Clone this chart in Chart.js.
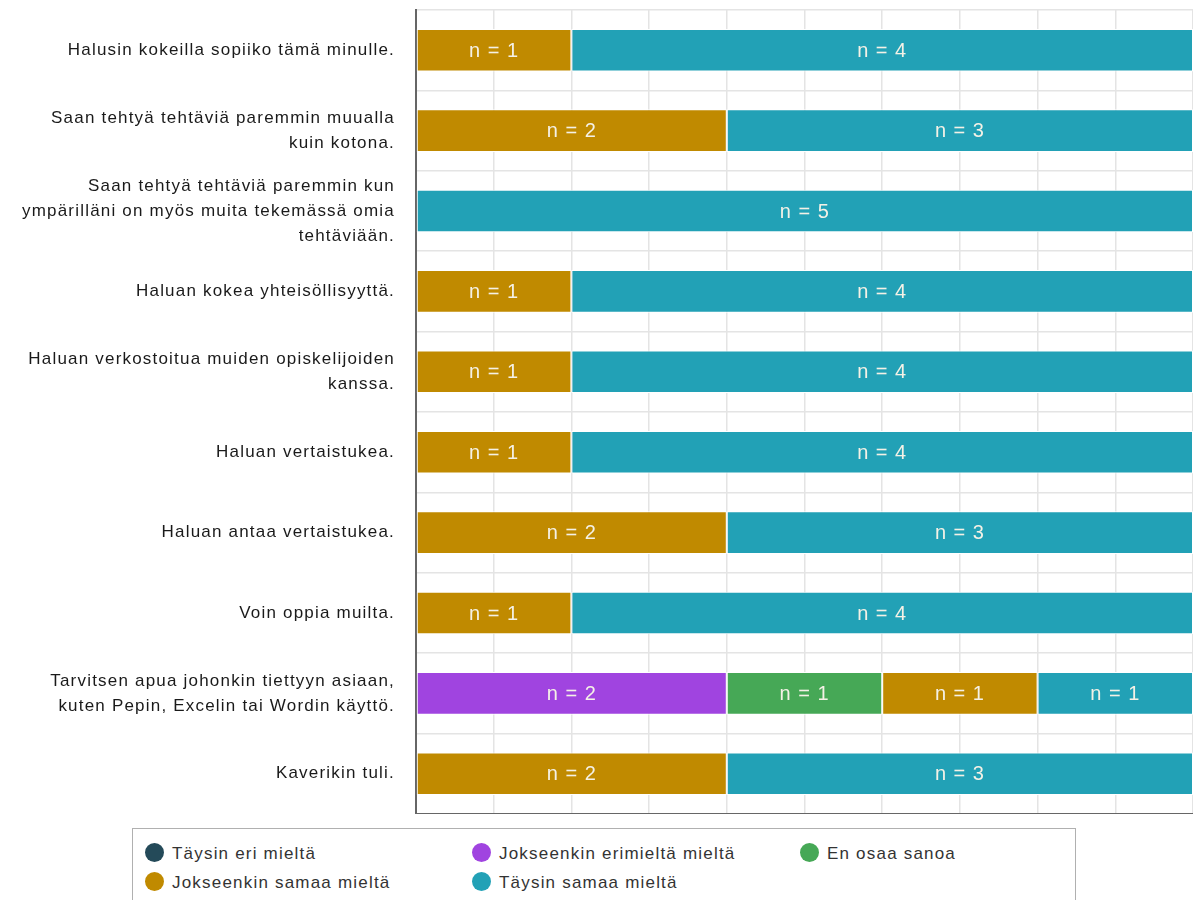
<!DOCTYPE html>
<html>
<head>
<meta charset="utf-8">
<script src="https://cdn.jsdelivr.net/npm/chart.js@4"></script>
<style>
  body { margin: 0; background: #fff; font-family: "Liberation Sans", Arial, sans-serif; }
  #wrap { position: relative; width: 1193px; height: 900px; overflow: hidden; }
  #chart-box { position: absolute; left: 0; top: 0; width: 1193px; height: 814px; }
  #legend {
    position: absolute; left: 132px; top: 828px; width: 944px; height: 90px;
    border: 1px solid #b0b0b0; box-sizing: border-box;
  }
  .item { position: absolute; font-size: 17px; letter-spacing: 1.2px; color: #333; line-height: 20px; white-space: nowrap; }
  .dot { display: inline-block; width: 19px; height: 19px; border-radius: 50%; vertical-align: -3px; margin-right: 8px; }
</style>
</head>
<body>
<div id="wrap">
  <div id="chart-box"><canvas id="c"></canvas></div>
  <div id="legend"></div>
</div>
<script>
const categories = [
  ["Halusin kokeilla sopiiko tämä minulle."],
  ["Saan tehtyä tehtäviä paremmin muualla", "kuin kotona."],
  ["Saan tehtyä tehtäviä paremmin kun", "ympärilläni on myös muita tekemässä omia", "tehtäviään."],
  ["Haluan kokea yhteisöllisyyttä."],
  ["Haluan verkostoitua muiden opiskelijoiden", "kanssa."],
  ["Haluan vertaistukea."],
  ["Haluan antaa vertaistukea."],
  ["Voin oppia muilta."],
  ["Tarvitsen apua johonkin tiettyyn asiaan,", "kuten Pepin, Excelin tai Wordin käyttö."],
  ["Kaverikin tuli."]
];
const seriesNames = ["Täysin eri mieltä", "Jokseenkin erimieltä mieltä", "En osaa sanoa", "Jokseenkin samaa mieltä", "Täysin samaa mieltä"];
const seriesColors = ["#244a59", "#a044e0", "#46a856", "#c08a00", "#22a1b6"];
const taysinEri       = [0, 0, 0, 0, 0, 0, 0, 0, 0, 0];
const jokseenkinEri   = [0, 0, 0, 0, 0, 0, 0, 0, 2, 0];
const enOsaa          = [0, 0, 0, 0, 0, 0, 0, 0, 1, 0];
const jokseenkinSamaa = [1, 2, 0, 1, 1, 1, 2, 1, 1, 2];
const taysinSamaa     = [4, 3, 5, 4, 4, 4, 3, 4, 1, 3];
const seriesValues = [taysinEri, jokseenkinEri, enOsaa, jokseenkinSamaa, taysinSamaa];

// wider text spacing, like the original
const spacing = {
  id: "spacing",
  beforeDraw(chart) { chart.ctx.letterSpacing = "1.2px"; },
};

// "n = x" labels inside bar segments
const nLabels = {
  id: "nLabels",
  afterDatasetsDraw(chart) {
    const ctx = chart.ctx;
    ctx.save();
    ctx.letterSpacing = "1px";
    ctx.font = '20px "Liberation Sans", Arial, sans-serif';
    ctx.fillStyle = "#f4f1e6";
    ctx.textAlign = "center";
    ctx.textBaseline = "middle";
    chart.data.datasets.forEach((ds, di) => {
      chart.getDatasetMeta(di).data.forEach((bar, i) => {
        const v = ds.data[i];
        if (!v) return;
        const left = Math.min(bar.x, bar.base), right = Math.max(bar.x, bar.base);
        ctx.fillText("n = " + v, (left + right) / 2, bar.y + 1);
      });
    });
    ctx.restore();
  }
};

new Chart(document.getElementById("c"), {
  type: "bar",
  data: {
    labels: categories,
    datasets: seriesNames.map((name, i) => ({
      label: name,
      data: seriesValues[i],
      backgroundColor: seriesColors[i],
      borderColor: "#ffffff",
      borderWidth: 1,
      borderSkipped: false,
      categoryPercentage: 1,
      barPercentage: 0.53,
    })),
  },
  options: {
    indexAxis: "y",
    responsive: true,
    maintainAspectRatio: false,
    animation: false,
    layout: { padding: { top: 10, right: 0, bottom: 0, left: 0 } },
    plugins: { legend: { display: false }, tooltip: { enabled: false } },
    scales: {
      x: {
        stacked: true, min: 0, max: 5,
        ticks: { display: false, stepSize: 0.5 },
        grid: { color: "#e4e4e4", lineWidth: 1.5, drawTicks: false },
        border: { color: "#666", width: 2 },
      },
      y: {
        stacked: true,
        afterFit(axis) {
          axis.width = 416;
          axis.paddingTop = 0;
          axis.paddingBottom = 0;
        },
        ticks: {
          color: "#1a1a1a", padding: 21,
          font: { family: '"Liberation Sans", Arial, sans-serif', size: 17, lineHeight: 1.47 },
        },
        grid: { color: "#e4e4e4", lineWidth: 1.5, drawTicks: false },
        border: { color: "#666", width: 2 },
      },
    },
  },
  plugins: [spacing, nLabels],
});

const legendPos = [[0, 0], [1, 0], [2, 0], [0, 1], [1, 1]];
const colX = [12, 339, 667];
const legend = document.getElementById("legend");
seriesNames.forEach((name, i) => {
  const [c, r] = legendPos[i];
  const el = document.createElement("div");
  el.className = "item";
  el.style.left = colX[c] + "px";
  el.style.top = (14 + r * 29) + "px";
  el.innerHTML = `<span class="dot" style="background:${seriesColors[i]}"></span>${name}`;
  legend.appendChild(el);
});
</script>
</body>
</html>
